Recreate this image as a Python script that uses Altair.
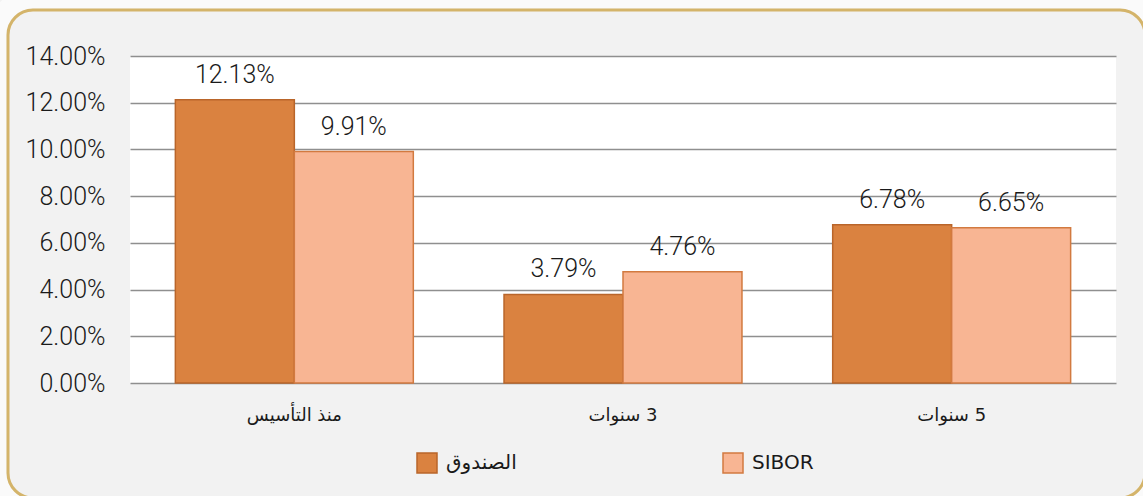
import altair as alt
import pandas as pd

categories = ["منذ التأسيس", "\u200f3 سنوات", "\u200f5 سنوات"]
series_names = ["الصندوق", "SIBOR"]
fund_values = [0.1213, 0.0379, 0.0678]
sibor_values = [0.0991, 0.0476, 0.0665]
y_ticks = [0, 0.02, 0.04, 0.06, 0.08, 0.10, 0.12, 0.14]

fill_colors = ["#DA8240", "#F8B593"]
stroke_colors = ["#B9652A", "#D27A40"]

rows = []
for c, f, s in zip(categories, fund_values, sibor_values):
    rows.append({"category": c, "series": series_names[0], "value": f})
    rows.append({"category": c, "series": series_names[1], "value": s})
df = pd.DataFrame(rows)

W, H = 986, 327

x = alt.X("category:N", sort=categories, title=None,
          scale=alt.Scale(paddingInner=0.276, paddingOuter=0.138),
          axis=alt.Axis(labelFont="DejaVu Sans", labelFontSize=18, labelColor="#1a1a1a",
                        labelPadding=23, labelAngle=0, ticks=False, domain=False, grid=False))
xoff = alt.XOffset("series:N", sort=series_names, scale=alt.Scale(paddingInner=0, paddingOuter=0))
y = alt.Y("value:Q", title=None, scale=alt.Scale(domain=[0, 0.14], nice=False),
          axis=alt.Axis(values=y_ticks, format=".2%", labelFont="Roboto", labelFontSize=25,
                        labelFontWeight=300,
                        labelColor="#1a1a1a", labelPadding=25, ticks=False, domain=False,
                        grid=True, gridColor="#8F8F8F", gridWidth=1.5))

legend = alt.Legend(orient="none", legendX=286, legendY=396, direction="horizontal", title=None,
                    symbolType="square", symbolSize=400, symbolStrokeWidth=1.5,
                    labelFont="DejaVu Sans", labelFontSize=20, labelColor="#1a1a1a",
                    labelOffset=8, columnPadding=203)

bars = alt.Chart(df).mark_bar(strokeWidth=1.5).encode(
    x=x, xOffset=xoff, y=y,
    fill=alt.Fill("series:N", scale=alt.Scale(domain=series_names, range=fill_colors), legend=legend),
    stroke=alt.Stroke("series:N", scale=alt.Scale(domain=series_names, range=stroke_colors), legend=legend),
)

labels = alt.Chart(df).mark_text(font="Roboto", fontSize=25, fontWeight=300, dy=-17,
                                 baseline="alphabetic", color="#1a1a1a").encode(
    x=x, xOffset=xoff, y=y, text=alt.Text("value:Q", format=".2%"))

one = alt.Data(values=[{"k": 1}])
cover = alt.Chart(one).mark_rect(cornerRadius=36.5, fillOpacity=0, stroke="#FAFAFA", strokeWidth=20).encode(
    x=alt.value(-133.5), x2=alt.value(1026.5), y=alt.value(-57.5), y2=alt.value(453.5))
frame = alt.Chart(one).mark_rect(cornerRadius=25, fillOpacity=0, stroke="#D4B46A", strokeWidth=3).encode(
    x=alt.value(-122), x2=alt.value(1015), y=alt.value(-46), y2=alt.value(442))

chart = alt.layer(bars, labels, cover, frame).properties(
    width=W, height=H,
    autosize=alt.AutoSizeParams(type="none"),
    padding={"left": 130, "top": 56, "right": 27, "bottom": 113},
    background="#F2F2F2",
).configure_view(fill="white", strokeWidth=0)

chart.save("out.html", embed_options={"renderer": "svg", "actions": False})
